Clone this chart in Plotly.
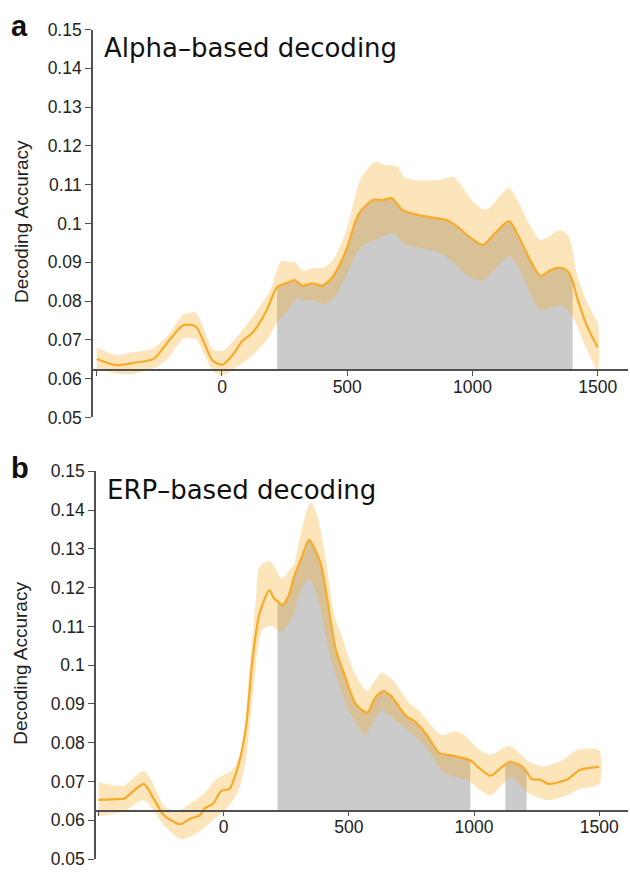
import plotly.graph_objects as go

# ---------------- Panel a: alpha-based decoding ----------------
a_mean_t = [-500, -422, -351, -273, -218, -155, -105, -38, 1, 41, 81, 121, 176, 220,
            268, 288, 321, 361, 400, 440, 494, 546, 606, 638, 678, 717, 783, 835, 901,
            940, 987, 1042, 1090, 1146, 1188, 1229, 1271, 1313, 1354, 1379, 1400, 1417,
            1458, 1500]
a_mean = [0.0651, 0.0635, 0.0641, 0.0651, 0.0693, 0.0738, 0.0735, 0.0647, 0.0636, 0.0660,
          0.0697, 0.0718, 0.0773, 0.0836, 0.0849, 0.0854, 0.0840, 0.0846, 0.0840, 0.0861,
          0.0928, 0.1025, 0.1062, 0.1060, 0.1065, 0.1036, 0.1022, 0.1016, 0.1008, 0.0992,
          0.0966, 0.0945, 0.0975, 0.1006, 0.0962, 0.0907, 0.0865, 0.0880, 0.0886, 0.0878,
          0.0850, 0.0811, 0.0735, 0.0681]

a_upper_t = [-500, -420, -356, -276, -208, -156, -104, -36, 4, 72, 124, 192, 236, 268,
             290, 324, 365, 405, 445, 499, 552, 612, 652, 700, 732, 792, 872, 925, 960,
             1000, 1042, 1063, 1146, 1174, 1271, 1350, 1385, 1417, 1465, 1500]
a_upper = [0.0681, 0.0660, 0.0668, 0.0678, 0.0718, 0.0764, 0.0770, 0.0676, 0.0672, 0.0718,
           0.0761, 0.0827, 0.0903, 0.0900, 0.0901, 0.0878, 0.0886, 0.0886, 0.0907, 0.0987,
           0.1113, 0.1159, 0.1151, 0.1147, 0.1117, 0.1111, 0.1113, 0.1120, 0.1095, 0.1058,
           0.1037, 0.1038, 0.1092, 0.1067, 0.0958, 0.0983, 0.0966, 0.0870, 0.0786, 0.0744]

a_lower_t = [-500, -420, -351, -273, -218, -155, -105, -38, 1, 68, 121, 176, 220, 268,
             300, 324, 365, 405, 445, 499, 552, 612, 685, 732, 792, 872, 940, 992, 1042,
             1090, 1146, 1188, 1271, 1354, 1396, 1450, 1500]
a_lower = [0.0626, 0.0613, 0.0613, 0.0626, 0.0651, 0.0702, 0.0702, 0.0622, 0.0608, 0.0634,
           0.0660, 0.0697, 0.0744, 0.0781, 0.0807, 0.0802, 0.0802, 0.0792, 0.0807, 0.0870,
           0.0937, 0.0958, 0.0975, 0.0945, 0.0937, 0.0924, 0.0890, 0.0861, 0.0853, 0.0882,
           0.0916, 0.0882, 0.0777, 0.0790, 0.0764, 0.0685, 0.0622]

a_sig_windows = [(220, 1400)]

# ---------------- Panel b: ERP-based decoding ----------------
b_mean_t = [-500, -420, -398, -358, -319, -280, -240, -174, -135, -96, -76, -43, -10, 23,
            56, 89, 116, 142, 182, 201, 215, 234, 261, 281, 314, 341, 361, 388, 414, 447,
            487, 527, 573, 606, 639, 673, 727, 767, 807, 861, 912, 951, 985, 1018, 1066,
            1108, 1125, 1142, 1190, 1210, 1231, 1265, 1295, 1374, 1422, 1500]
b_mean = [0.0653, 0.0655, 0.0656, 0.0677, 0.0694, 0.0656, 0.0614, 0.0590, 0.0604, 0.0613,
          0.0631, 0.0643, 0.0676, 0.0681, 0.0736, 0.0840, 0.1020, 0.1130, 0.1193, 0.1172,
          0.1165, 0.1155, 0.1181, 0.1227, 0.1282, 0.1324, 0.1303, 0.1261, 0.1168, 0.1042,
          0.0967, 0.0900, 0.0878, 0.0917, 0.0933, 0.0917, 0.0870, 0.0853, 0.0824, 0.0774,
          0.0767, 0.0761, 0.0755, 0.0736, 0.0715, 0.0736, 0.0744, 0.0751, 0.0740, 0.0725,
          0.0706, 0.0705, 0.0694, 0.0706, 0.0730, 0.0738]

b_upper_t = [-500, -450, -398, -319, -266, -240, -187, -135, -83, -30, 36, 76, 100, 116,
             130, 142, 182, 234, 261, 281, 314, 347, 374, 407, 440, 480, 520, 573, 593,
             632, 679, 740, 780, 833, 873, 920, 951, 982, 1005, 1066, 1142, 1224, 1279,
             1347, 1415, 1500]
b_upper = [0.0698, 0.0691, 0.0690, 0.0727, 0.0673, 0.0639, 0.0623, 0.0643, 0.0666, 0.0706,
           0.0731, 0.0790, 0.0970, 0.1080, 0.1180, 0.1252, 0.1269, 0.1223, 0.1244, 0.1261,
           0.1357, 0.1420, 0.1386, 0.1277, 0.1135, 0.1060, 0.0984, 0.0933, 0.0950, 0.0980,
           0.0959, 0.0904, 0.0883, 0.0841, 0.0820, 0.0829, 0.0824, 0.0807, 0.0790, 0.0769,
           0.0792, 0.0749, 0.0740, 0.0753, 0.0782, 0.0780]

b_lower_t = [-500, -398, -319, -240, -168, -96, -43, 23, 62, 89, 116, 155, 195, 228, 261,
             281, 308, 341, 374, 421, 460, 500, 566, 593, 632, 686, 753, 807, 873, 926,
             979, 1019, 1066, 1149, 1210, 1292, 1374, 1422, 1500]
b_lower = [0.0610, 0.0623, 0.0652, 0.0589, 0.0551, 0.0572, 0.0601, 0.0639, 0.0681, 0.0757,
           0.0918, 0.1092, 0.1101, 0.1084, 0.1110, 0.1135, 0.1193, 0.1223, 0.1177, 0.1034,
           0.0950, 0.0883, 0.0820, 0.0849, 0.0883, 0.0858, 0.0824, 0.0790, 0.0727, 0.0711,
           0.0702, 0.0681, 0.0665, 0.0711, 0.0673, 0.0652, 0.0665, 0.0681, 0.0694]

b_sig_windows = [(215, 985), (1125, 1210)]

# ---------------- Axis ticks ----------------
y_tick_vals = [0.05, 0.06, 0.07, 0.08, 0.09, 0.10, 0.11, 0.12, 0.13, 0.14, 0.15]
y_tick_text = ["0.05", "0.06", "0.07", "0.08", "0.09", "0.1", "0.11", "0.12", "0.13",
               "0.14", "0.15"]
x_tick_vals = [-500, 0, 500, 1000, 1500]
x_tick_text = ["", "0", "500", "1000", "1500"]

# ---------------- Styling ----------------
W, H = 630, 876
LINE_COLOR = "#F8AA28"
BAND_COLOR = "rgba(250,172,35,0.31)"
SIG_COLOR = "#CBCBCB"
AXIS_COLOR = "#505050"
TICK_FONT = dict(family="Liberation Sans, Arial, sans-serif", size=17.5, color="#222222")
Y_RANGE = [0.05, 0.15]
SMOOTH = 0.7

panels = [
    dict(name="a", title="Alpha–based decoding", t=a_mean_t, m=a_mean, ut=a_upper_t,
         u=a_upper, lt=a_lower_t, lo=a_lower, sig=a_sig_windows, base=0.0623,
         ydom=[1 - 417 / H, 1 - 20 / H], xdom=[92 / W, 628 / W], xrange=[-519, 1621]),
    dict(name="b", title="ERP–based decoding", t=b_mean_t, m=b_mean, ut=b_upper_t,
         u=b_upper, lt=b_lower_t, lo=b_lower, sig=b_sig_windows, base=0.0625,
         ydom=[1 - 869 / H, 1 - 472 / H], xdom=[95 / W, 628 / W], xrange=[-514, 1615]),
]

fig = go.Figure()
layout = {}
annotations = []

for i, p in enumerate(panels, start=1):
    xa = "x" if i == 1 else f"x{i}"
    ya = "y" if i == 1 else f"y{i}"

    # significant time windows: grey area from the x-axis line up to the mean curve
    for lo_t, hi_t in p["sig"]:
        xs = [t for t in p["t"] if lo_t <= t <= hi_t]
        ys = [v for t, v in zip(p["t"], p["m"]) if lo_t <= t <= hi_t]
        fig.add_trace(go.Scatter(
            x=[lo_t, hi_t], y=[p["base"], p["base"]], mode="lines",
            line=dict(width=0), hoverinfo="skip", showlegend=False, xaxis=xa, yaxis=ya))
        fig.add_trace(go.Scatter(
            x=xs, y=ys, fill="tonexty", fillcolor=SIG_COLOR, mode="lines",
            line=dict(width=0, shape="spline", smoothing=SMOOTH),
            hoverinfo="skip", showlegend=False, xaxis=xa, yaxis=ya))

    # confidence band
    fig.add_trace(go.Scatter(
        x=p["ut"] + p["lt"][::-1], y=p["u"] + p["lo"][::-1],
        fill="toself", fillcolor=BAND_COLOR, mode="lines",
        line=dict(width=0, shape="spline", smoothing=SMOOTH),
        hoverinfo="skip", showlegend=False, xaxis=xa, yaxis=ya))

    # mean decoding accuracy
    fig.add_trace(go.Scatter(
        x=p["t"], y=p["m"], mode="lines",
        line=dict(color=LINE_COLOR, width=2.2, shape="spline", smoothing=SMOOTH),
        showlegend=False, xaxis=xa, yaxis=ya))

    ydom = p["ydom"]
    xpos = ydom[0] + (p["base"] - Y_RANGE[0]) / (Y_RANGE[1] - Y_RANGE[0]) * (ydom[1] - ydom[0])

    layout["xaxis" if i == 1 else f"xaxis{i}"] = dict(
        domain=p["xdom"], range=p["xrange"], anchor="free", position=xpos,
        showline=True, linecolor=AXIS_COLOR, linewidth=1.6, showgrid=False,
        zeroline=False, ticks="outside", ticklen=5, tickwidth=1.3, tickcolor=AXIS_COLOR,
        tickvals=x_tick_vals, ticktext=x_tick_text, tickfont=TICK_FONT,
        ticklabelstandoff=-4)
    layout["yaxis" if i == 1 else f"yaxis{i}"] = dict(
        domain=ydom, range=Y_RANGE, anchor="free", position=p["xdom"][0],
        showline=True, linecolor=AXIS_COLOR, linewidth=1.6, showgrid=False,
        zeroline=False, ticks="outside", ticklen=6, tickwidth=1.3, tickcolor=AXIS_COLOR,
        tickvals=y_tick_vals, ticktext=y_tick_text, tickfont=TICK_FONT,
        ticklabelstandoff=0)

    top_px = (1 - ydom[1]) * H
    # panel letter
    annotations.append(dict(
        text=f"<b>{p['name']}</b>", x=9 / W, y=1 - (top_px - 22) / H, xref="paper",
        yref="paper", xanchor="left", yanchor="top", showarrow=False,
        font=dict(family="Liberation Sans, Arial, sans-serif", size=29, color="#111111")))
    # panel title
    annotations.append(dict(
        text=p["title"], x=(p["xdom"][0] * W + 10) / W, y=1 - (top_px + 19) / H,
        xref="paper", yref="paper", xanchor="left", yanchor="middle", showarrow=False,
        font=dict(family="DejaVu Sans, sans-serif", size=26, color="#111111")))
    # y-axis title
    annotations.append(dict(
        text="Decoding Accuracy", x=21 / W, y=1 - (top_px + 197) / H, xref="paper",
        yref="paper", xanchor="center", yanchor="middle", textangle=-90, showarrow=False,
        font=dict(family="Liberation Sans, Arial, sans-serif", size=19, color="#222222")))

fig.update_layout(
    width=W, height=H, margin=dict(l=0, r=0, t=0, b=0),
    paper_bgcolor="white", plot_bgcolor="white",
    annotations=annotations, **layout)

fig.write_html("out.html")
